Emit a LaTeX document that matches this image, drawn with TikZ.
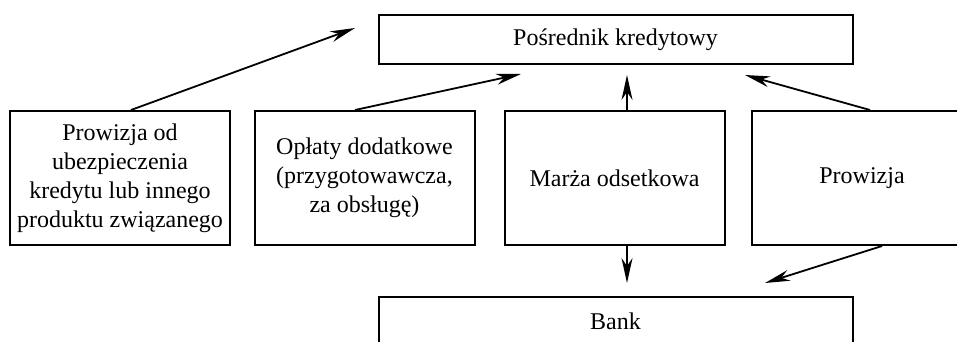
\documentclass[tikz,border=0pt]{standalone}
\usepackage{fontspec}
\setmainfont{Liberation Serif}
\usetikzlibrary{arrows.meta}

\begin{document}
\begin{tikzpicture}[x=0.5pt,y=-0.5pt]
	\tikzset{box/.style={draw,line width=1pt,align=center,inner sep=0pt,
		font=\fontsize{12}{14.5}\selectfont}}
	\tikzset{arr/.style={line width=0.9pt,-{Stealth[length=12.5pt,width=5.5pt,inset=4pt]}}}

	\useasboundingbox (0,0) rectangle (957,342);

	\node[box,minimum width=237pt,minimum height=24.5pt] (posrednik) at (615.5,39.5) {Pośrednik kredytowy};
	\node[box,minimum width=237pt,minimum height=24.5pt] (bank) at (615.5,321.5) {Bank};

	\node[box,minimum width=110pt,minimum height=67pt] (prow1) at (120,178) {Prowizja od\\ubezpieczenia\\kredytu lub innego\\produktu związanego};
	\node[box,minimum width=110pt,minimum height=67pt] (oplaty) at (364.5,178) {Opłaty dodatkowe\\(przygotowawcza,\\za obsługę)};
	\node[box,minimum width=110pt,minimum height=67pt] (marza) at (614.5,178) {Marża odsetkowa};
	\node[box,minimum width=110pt,minimum height=67pt] (prow2) at (862,178) {Prowizja};

	\coordinate (t1) at (355,28);
	\coordinate (t2) at (521,74);
	\coordinate (t3) at (627,75);
	\coordinate (t4) at (627,283);
	\coordinate (t5) at (745,75);
	\coordinate (t6) at (765,283);

	\draw[arr] ([xshift=5.5pt]prow1.north) -- (t1);
	\draw[arr] ([xshift=-4.75pt]oplaty.north) -- (t2);
	\draw[arr] ([xshift=6.25pt]marza.north) -- (t3);
	\draw[arr] ([xshift=6.25pt]marza.south) -- (t4);
	\draw[arr] ([xshift=4pt]prow2.north) -- (t5);
	\draw[arr] ([xshift=10pt]prow2.south) -- (t6);
\end{tikzpicture}
\end{document}
